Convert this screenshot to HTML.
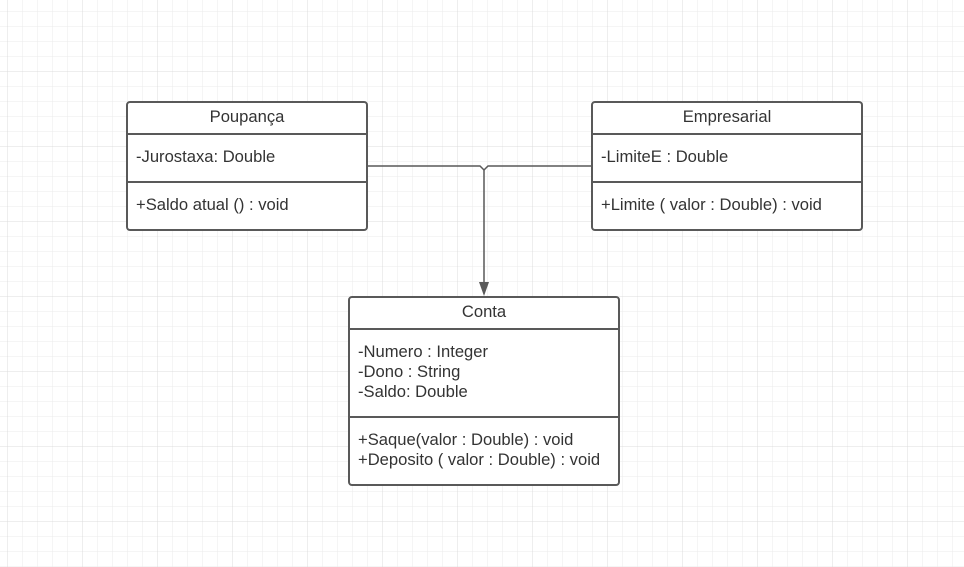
<!DOCTYPE html>
<html><head><style>
html,body{margin:0;padding:0;background:#fff;}
svg{display:block;}
text{font-family:"Liberation Sans",Arial,sans-serif;font-size:16.6px;fill:#333;}
</style></head><body>
<svg width="964" height="567" xmlns="http://www.w3.org/2000/svg">
<defs>
<pattern id="g" x="7" y="11" width="15" height="15" patternUnits="userSpaceOnUse">
<path d="M0 0H15M0 0V15" stroke="#ebebeb" stroke-width="1" fill="none"/>
</pattern>
<pattern id="G" x="7" y="-4" width="75" height="75" patternUnits="userSpaceOnUse">
<path d="M0 0H75M0 0V75" stroke="#dcdcdc" stroke-width="1" fill="none"/>
</pattern>
</defs>
<g transform="translate(0.5,0.5)">
<rect x="-1" y="-1" width="966" height="569" fill="url(#g)"/>
<rect x="-1" y="-1" width="966" height="569" fill="url(#G)"/>
</g>
<g stroke="#595959" stroke-width="2" fill="#fff">
<rect x="127" y="102" width="240" height="128" rx="3"/>
<line x1="127" y1="134" x2="367" y2="134"/>
<line x1="127" y1="182" x2="367" y2="182"/>
<rect x="592" y="102" width="270" height="128" rx="3"/>
<line x1="592" y1="134" x2="862" y2="134"/>
<line x1="592" y1="182" x2="862" y2="182"/>
<rect x="349" y="297" width="270" height="188" rx="3"/>
<line x1="349" y1="329" x2="619" y2="329"/>
<line x1="349" y1="417" x2="619" y2="417"/>
</g>
<g stroke="#595959" stroke-width="1.5" fill="none">
<path d="M368 166H480l4 4 4-4H591"/>
<path d="M484 170V284"/>
</g>
<path d="M479 282L489 282L484 296Z" fill="#595959"/>
<text x="247" y="122" text-anchor="middle">Poupança</text>
<text x="136" y="162">-Jurostaxa: Double</text>
<text x="136" y="210">+Saldo atual () : void</text>
<text x="727" y="122" text-anchor="middle">Empresarial</text>
<text x="601" y="162">-LimiteE : Double</text>
<text x="601" y="210">+Limite ( valor : Double) : void</text>
<text x="484" y="317" text-anchor="middle">Conta</text>
<text x="358" y="357">-Numero : Integer</text>
<text x="358" y="377">-Dono : String</text>
<text x="358" y="397">-Saldo: Double</text>
<text x="358" y="445">+Saque(valor : Double) : void</text>
<text x="358" y="465">+Deposito ( valor : Double) : void</text>
</svg>
</body></html>
